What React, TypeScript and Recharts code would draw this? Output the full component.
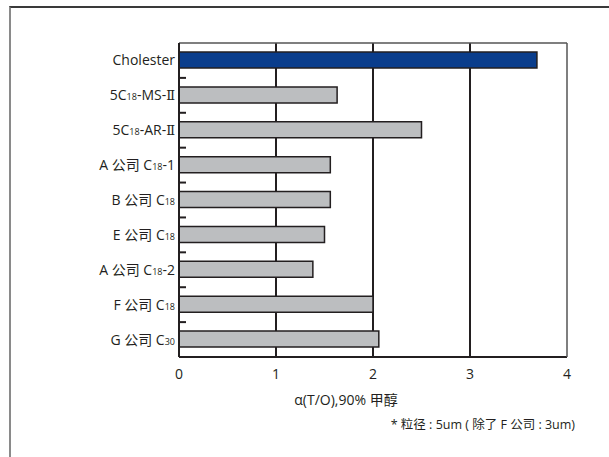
import * as React from 'react';
import { BarChart, Bar, XAxis, YAxis, CartesianGrid, Cell } from 'recharts';

const categories = [
  'Cholester',
  '5C18-MS-Ⅱ',
  '5C18-AR-Ⅱ',
  'A 公司 C18-1',
  'B 公司 C18',
  'E 公司 C18',
  'A 公司 C18-2',
  'F 公司 C18',
  'G 公司 C30',
];
const alphaValues = [3.69, 1.63, 2.5, 1.56, 1.56, 1.5, 1.38, 2.0, 2.06];
const xTicks = [0, 1, 2, 3, 4];
const gridValues = [1, 2, 3];

const data = categories.map((name, i) => ({ name, alpha: alphaValues[i] }));

const FONT = '"Open Sans", "Noto Sans CJK SC", sans-serif';
const TEXT = '#231f20';
const CHART_W = 609;
const CHART_H = 457;
const M_TOP = 43;
const X_AXIS_H = 30;
const M_BOTTOM = 100 - X_AXIS_H;
const BAND = (CHART_H - M_TOP - M_BOTTOM - X_AXIS_H) / categories.length;

// split "C18" style chemistry labels into normal text + subscript digits
function splitLabel(label: string) {
  const parts: { t: string; kind: 'n' | 'sub' | 'roman' }[] = [];
  const re = /C(\d{2})|Ⅱ/g;
  let last = 0;
  let m;
  while ((m = re.exec(label)) !== null) {
    if (m[0] === 'Ⅱ') {
      parts.push({ t: label.slice(last, m.index), kind: 'n' });
      parts.push({ t: 'Ⅱ', kind: 'roman' });
    } else {
      parts.push({ t: label.slice(last, m.index + 1), kind: 'n' });
      parts.push({ t: m[1], kind: 'sub' });
    }
    last = m.index + m[0].length;
  }
  if (last < label.length) parts.push({ t: label.slice(last), kind: 'n' });
  return parts;
}

const CategoryTick = (props: any) => {
  const { x, y, payload } = props;
  const idx = props.index ?? payload.index ?? categories.indexOf(payload.value);
  const parts = splitLabel(String(payload.value));
  return (
    <g>
      <text x={x} y={y} dy={5} textAnchor="end" fontFamily={FONT} fontSize={14} fill={TEXT}>
        {parts.map((p, i) =>
          p.kind === 'sub' ? (
            <tspan key={i} fontSize={9}>{p.t}</tspan>
          ) : p.kind === 'roman' ? (
            <tspan key={i} fontFamily='"DejaVu Serif"' fontSize={13}>{p.t}</tspan>
          ) : (
            <tspan key={i}>{p.t}</tspan>
          )
        )}
      </text>
      {idx < categories.length - 1 && (
        <line x1={x + 4} x2={x + 11} y1={y + BAND / 2} y2={y + BAND / 2} stroke={TEXT} strokeWidth={2} />
      )}
    </g>
  );
};

const AxisTitle = (props: any) => {
  const { viewBox } = props;
  return (
    <text
      x={viewBox.x + 167}
      y={viewBox.y + 48}
      textAnchor="middle"
      fontFamily={FONT}
      fontSize={14}
      fill={TEXT}
    >
      α(T/O),90% 甲醇
    </text>
  );
};

export default function App() {
  return (
    <div style={{ position: 'absolute', left: 0, top: 0, width: CHART_W, height: CHART_H, overflow: 'hidden', background: '#fff' }}>
      <div style={{ position: 'absolute', left: 0, top: 0 }}>
        <BarChart
          width={CHART_W}
          height={CHART_H}
          data={data}
          layout="vertical"
          margin={{ top: M_TOP - 1, right: 41, bottom: M_BOTTOM, left: 0 }}
          barCategoryGap={0}
        >
          <CartesianGrid
            horizontal={false}
            vertical
            verticalValues={gridValues}
            stroke={TEXT}
            strokeWidth={2}
          />
          <XAxis
            type="number"
            domain={[0, 4]}
            ticks={xTicks}
            axisLine={{ stroke: TEXT, strokeWidth: 2 }}
            tickLine={false}
            tickSize={0}
            tickMargin={12}
            tick={{ fontFamily: FONT, fontSize: 14, fill: TEXT }}
            height={X_AXIS_H}
            label={<AxisTitle />}
          />
          <XAxis
            xAxisId="top"
            orientation="top"
            type="number"
            domain={[0, 4]}
            ticks={xTicks}
            tick={false}
            tickLine={false}
            height={1}
            axisLine={{ stroke: '#555', strokeWidth: 1.5 }}
          />
          <YAxis
            type="category"
            dataKey="name"
            width={179}
            axisLine={{ stroke: TEXT, strokeWidth: 2 }}
            tickLine={false}
            tickSize={0}
            tickMargin={4}
            interval={0}
            tick={<CategoryTick />}
          />
          <YAxis
            yAxisId="right"
            orientation="right"
            type="category"
            dataKey="name"
            width={1}
            tick={false}
            tickLine={false}
            axisLine={{ stroke: '#555', strokeWidth: 1.5 }}
          />
          <Bar dataKey="alpha" barSize={16} fill="#bcbec0" stroke={TEXT} strokeWidth={1.5} isAnimationActive={false}>
            {data.map((d, i) => (
              <Cell key={d.name} fill={i === 0 ? '#0a3d8c' : '#bcbec0'} />
            ))}
          </Bar>
        </BarChart>
      </div>
      <div
        style={{
          position: 'absolute',
          left: 9,
          top: 6,
          width: 800,
          height: 800,
          borderTop: '2px solid #3a3a3a',
          borderLeft: '2px solid #8a8a8a',
          pointerEvents: 'none',
        }}
      />
      <div
        style={{
          position: 'absolute',
          right: 34,
          top: 414,
          fontFamily: FONT,
          fontSize: 12.5,
          color: TEXT,
          whiteSpace: 'nowrap',
        }}
      >
        * 粒径 : 5um ( 除了 F 公司 : 3um)
      </div>
    </div>
  );
}
